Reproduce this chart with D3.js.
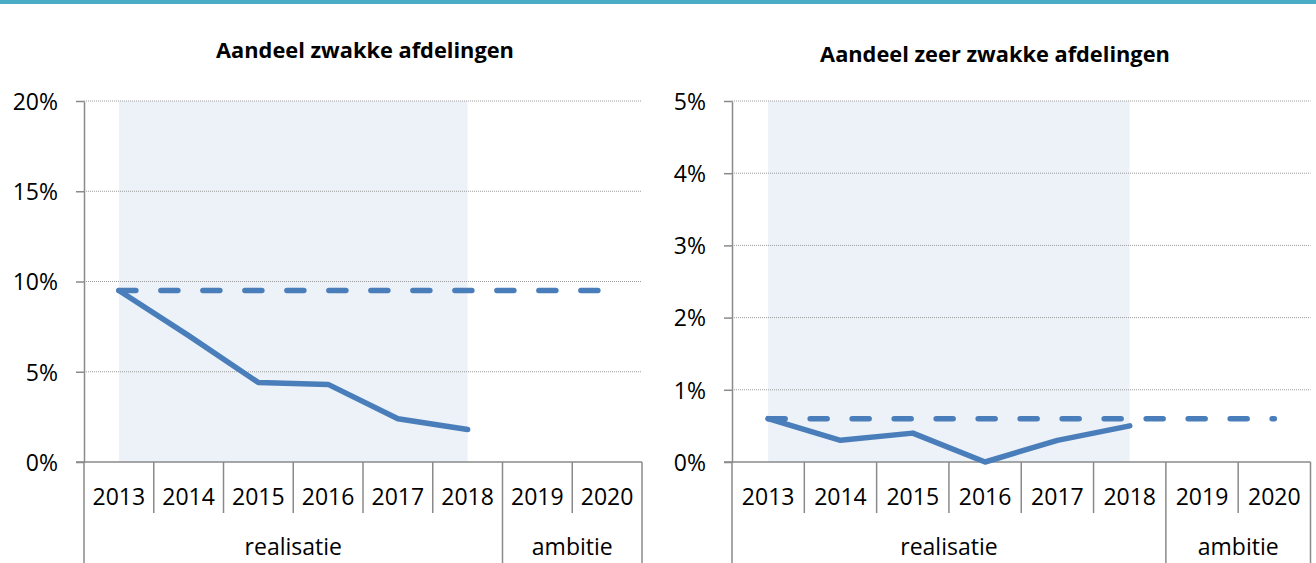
<!DOCTYPE html>
<html lang="nl">

<head>
  <meta charset="UTF-8">
  <title>Aandeel (zeer) zwakke afdelingen</title>
  <script src="https://d3js.org/d3.v7.min.js"></script>
  <style>
    body {
      margin: 0;
      background: #fff;
      font-family: "Open Sans", sans-serif;
    }

    .grid line {
      stroke: #9c9c9c;
      stroke-width: 1px;
      stroke-dasharray: 1, 1;
    }

    .axis path,
    .axis line,
    .sep {
      stroke: #8a8a8a;
      stroke-width: 1.5px;
    }

    .axis text,
    .cat {
      font-family: "Open Sans", sans-serif;
      font-size: 23px;
      fill: #000;
    }

    .title {
      font-family: "Open Sans", sans-serif;
      font-size: 21.8px;
      font-weight: bold;
    }
  </style>
</head>

<body>
  <div id="chart"></div>
</body>
<script>
  // categories on the x axis
  var years = ["2013", "2014", "2015", "2016", "2017", "2018", "2019", "2020"];
  var realisatieYears = ["2013", "2014", "2015", "2016", "2017", "2018"];
  var groups = [
    { name: "realisatie", from: "2013", to: "2018" },
    { name: "ambitie", from: "2019", to: "2020" }
  ];

  // values in percent
  var zwak = [9.5, 7.0, 4.4, 4.3, 2.4, 1.8];
  var zwakAmbitie = 9.5;
  var zeerZwak = [0.6, 0.3, 0.4, 0.0, 0.3, 0.5];
  var zeerZwakAmbitie = 0.6;

  // y ticks
  var zwakTicks = [0, 5, 10, 15, 20];
  var zeerZwakTicks = [0, 1, 2, 3, 4, 5];

  var width = 1316, height = 563;

  var svg = d3.select("#chart").append("svg")
    .attr("width", width)
    .attr("height", height);

  // teal band along the top
  svg.append("rect")
    .attr("x", 0).attr("y", 0)
    .attr("width", width).attr("height", 4)
    .attr("fill", "#4bacc6");

  function panel(opt) {
    var top = 101, bottom = 462, yearRow = 513;
    var g = svg.append("g");

    var x = d3.scaleBand().domain(years).range([opt.left, opt.right]);
    var y = d3.scaleLinear().domain([0, d3.max(opt.ticks)]).range([bottom, top]);
    var bw = x.bandwidth();
    var cx = function (d) { return x(d) + bw / 2; };

    // light shading behind the realised years
    g.append("rect")
      .attr("x", cx(realisatieYears[0]))
      .attr("y", y(d3.max(opt.ticks)))
      .attr("width", cx(realisatieYears[realisatieYears.length - 1]) - cx(realisatieYears[0]))
      .attr("height", y(0) - y(d3.max(opt.ticks)))
      .attr("fill", "#edf2f9");

    // dotted gridlines
    g.append("g").attr("class", "grid")
      .selectAll("line")
      .data(opt.ticks.filter(function (t) { return t > 0; }))
      .join("line")
      .attr("x1", opt.left).attr("x2", opt.right)
      .attr("y1", function (d) { return y(d); })
      .attr("y2", function (d) { return y(d); });

    // y axis
    var yAxis = g.append("g").attr("class", "axis")
      .attr("transform", "translate(" + opt.left + ",0)")
      .call(d3.axisLeft(y).tickValues(opt.ticks)
        .tickFormat(function (d) { return d + "%"; })
        .tickSizeInner(8).tickSizeOuter(0).tickPadding(18));
    yAxis.selectAll("text").attr("dy", "0.36em");

    // x axis baseline
    g.append("line").attr("class", "sep")
      .attr("x1", opt.left - 8).attr("x2", opt.right)
      .attr("y1", y(0)).attr("y2", y(0));

    // separators between years, long ones between groups
    var groupEdges = groups.map(function (d) { return x(d.from); }).concat([opt.right]);
    var edges = years.map(function (d) { return x(d); }).concat([opt.right]);
    g.selectAll("line.edge")
      .data(edges)
      .join("line")
      .attr("class", "sep edge")
      .attr("x1", function (d) { return d; })
      .attr("x2", function (d) { return d; })
      .attr("y1", y(0))
      .attr("y2", function (d) { return groupEdges.indexOf(d) >= 0 ? height : yearRow; });

    g.selectAll("text.year")
      .data(years)
      .join("text")
      .attr("class", "cat year")
      .attr("x", cx)
      .attr("y", 505)
      .attr("text-anchor", "middle")
      .text(function (d) { return d; });

    g.selectAll("text.group")
      .data(groups)
      .join("text")
      .attr("class", "cat group")
      .attr("x", function (d) { return (x(d.from) + x(d.to) + bw) / 2; })
      .attr("y", 555)
      .attr("text-anchor", "middle")
      .text(function (d) { return d.name; });

    var line = d3.line()
      .x(function (d) { return cx(d.year); })
      .y(function (d) { return y(d.v); });

    // ambition level, dashed over all years
    g.append("path")
      .datum(years.map(function (d) { return { year: d, v: opt.target }; }))
      .attr("d", line)
      .attr("fill", "none")
      .attr("stroke", "#4a7ebb")
      .attr("stroke-width", 5.5)
      .attr("stroke-linecap", "round")
      .attr("stroke-dasharray", "17,25");

    // realised values
    g.append("path")
      .datum(realisatieYears.map(function (d, i) { return { year: d, v: opt.values[i] }; }))
      .attr("d", line)
      .attr("fill", "none")
      .attr("stroke", "#4a7ebb")
      .attr("stroke-width", 5.5)
      .attr("stroke-linecap", "round")
      .attr("stroke-linejoin", "round");

    g.append("text")
      .attr("class", "title")
      .attr("x", opt.titleX)
      .attr("y", opt.titleY)
      .attr("text-anchor", "middle")
      .text(opt.title);
  }

  panel({
    left: 84, right: 642, ticks: zwakTicks,
    values: zwak, target: zwakAmbitie,
    title: "Aandeel zwakke afdelingen", titleX: 365, titleY: 58
  });

  panel({
    left: 732, right: 1310.5, ticks: zeerZwakTicks,
    values: zeerZwak, target: zeerZwakAmbitie,
    title: "Aandeel zeer zwakke afdelingen", titleX: 995, titleY: 62
  });
</script>

</html>
